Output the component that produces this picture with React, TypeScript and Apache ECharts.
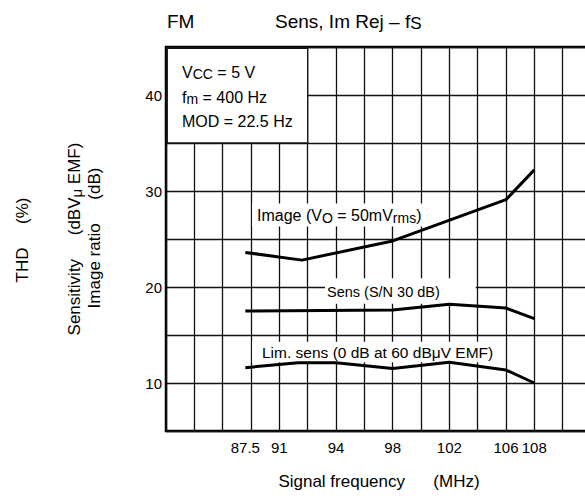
import React, { useEffect, useRef } from "react";
import * as echarts from "echarts";

// ---- data ----
const freqTicks = [87.5, 91, 94, 98, 102, 106, 108];
// non-linear frequency scale used by the original (grid columns)
const scaleFreq = [87.5, 91, 94, 98, 102, 106, 108];
const scaleCol = [2.8, 4, 6, 8, 10, 12, 13];

const imageFreq = [87.5, 92.2, 98, 106, 108];
const imageVal = [23.6, 22.8, 24.8, 29.1, 32.2];

const sensFreq = [87.5, 98, 102, 106, 108];
const sensVal = [17.5, 17.6, 18.2, 17.8, 16.7];

const limFreq = [87.5, 92, 94, 98, 102, 106, 108];
const limVal = [11.6, 12.1, 12.1, 11.5, 12.15, 11.35, 10.0];

const yTicks = [10, 20, 30, 40];

const FONT = '"Liberation Sans", Arial, Helvetica, sans-serif';

function col(f: number): number {
  for (let i = 0; i < scaleFreq.length - 1; i++) {
    if (f <= scaleFreq[i + 1]) {
      const t = (f - scaleFreq[i]) / (scaleFreq[i + 1] - scaleFreq[i]);
      return scaleCol[i] + t * (scaleCol[i + 1] - scaleCol[i]);
    }
  }
  return scaleCol[scaleCol.length - 1];
}

function pts(fs: number[], vs: number[]) {
  return fs.map((f, i) => [col(f), vs[i]]);
}

function rich(n: number, s: number) {
  return {
    n: { fontSize: n, fontFamily: FONT, lineHeight: n + 2, verticalAlign: "middle", fill: "#000" },
    s: { fontSize: s, fontFamily: FONT, lineHeight: s - 3, verticalAlign: "bottom", fill: "#000" },
  };
}

function txt(x: number, y: number, text: string, size: number, extra: any = {}) {
  const { style: st, ...rest } = extra;
  return {
    type: "text",
    x,
    y,
    z: 100,
    ...rest,
    style: {
      text,
      rich: rich(size, size - 2),
      font: `${size}px ${FONT}`,
      fill: "#000",
      align: "left",
      verticalAlign: "middle",
      textAlign: "left",
      textVerticalAlign: "middle",
      ...(st || {}),
    },
  };
}

export default function App() {
  const ref = useRef<HTMLDivElement>(null);
  useEffect(() => {
    if (!ref.current) return;
    const chart = echarts.init(ref.current, null, { renderer: "svg" });
    const lineStyle = { color: "#000", width: 3 };
    const colW = 28.33;
    chart.setOption({
      animation: false,
      backgroundColor: "#fff",
      grid: {
        left: 166,
        top: 47,
        width: colW * 16,
        height: 384,
        show: true,
        borderColor: "#000",
        borderWidth: 2.5,
        backgroundColor: "transparent",
      },
      xAxis: {
        type: "value",
        min: 0,
        max: 16,
        interval: 1,
        axisLine: { show: false },
        axisTick: { show: false },
        splitLine: { show: true, lineStyle: { color: "#111", width: 1.3 } },
        axisLabel: {
          customValues: freqTicks.map((f) => col(f)),
          formatter: (v: number) => {
            const i = freqTicks.findIndex((f) => Math.abs(col(f) - v) < 1e-6);
            return i >= 0 ? String(freqTicks[i]) : "";
          },
          fontSize: 15,
          fontFamily: FONT,
          color: "#000",
          margin: 9,
        },
      },
      yAxis: {
        type: "value",
        min: 5,
        max: 45,
        interval: 5,
        axisLine: { show: false },
        axisTick: { show: false },
        splitLine: { show: true, lineStyle: { color: "#111", width: 1.3 } },
        axisLabel: {
          formatter: (v: number) => (yTicks.includes(v) ? String(v) : ""),
          fontSize: 15,
          fontFamily: FONT,
          color: "#000",
          margin: 4,
        },
      },
      series: [
        { type: "line", data: pts(imageFreq, imageVal), symbol: "none", lineStyle, z: 3 },
        { type: "line", data: pts(sensFreq, sensVal), symbol: "none", lineStyle, z: 3 },
        { type: "line", data: pts(limFreq, limVal), symbol: "none", lineStyle, z: 3 },
      ],
      graphic: [
        txt(167, 21, "{n|FM}", 19),
        txt(275, 21, "{n|Sens, Im Rej – f}{s|S}", 19),
        {
          type: "rect",
          z: 90,
          shape: { x: 167.25, y: 48.25, width: 140.45, height: 94.75 },
          style: { fill: "#fff", stroke: "#111", lineWidth: 1.3 },
        },
        txt(182, 72, "{n|V}{s|CC}{n| = 5 V}", 16),
        txt(182, 97, "{n|f}{s|m}{n| = 400 Hz}", 16),
        txt(182, 121, "{n|MOD = 22.5 Hz}", 16),
        txt(252, 215, "{n|Image (V}{s|O}{n| = 50mV}{s|rms}{n|)}", 16, {
          z: 1,
          style: { backgroundColor: "#fff", padding: [3, 3, 2, 5] },
        }),
        txt(325, 291, "{n|Sens (S/N 30 dB)}", 14.5, {
          z: 1,
          style: { backgroundColor: "#fff", padding: [5, 36, 4, 2] },
        }),
        txt(252, 352, "{n|Lim. sens (0 dB at 60 dBμV EMF)}", 15.5, {
          z: 1,
          style: { backgroundColor: "#fff", padding: [2, 7, 1, 10] },
        }),
        txt(379, 481, "{n|Signal frequency      (MHz)}", 17, {
          style: { align: "center", textAlign: "center" },
        }),
        txt(22, 240, "{n|THD     (%)}", 17, {
          rotation: Math.PI / 2,
          style: { align: "center", textAlign: "center" },
        }),
        txt(74, 239, "{n|Sensitivity     (dBV}{s|μ}{n| EMF)}", 17, {
          rotation: Math.PI / 2,
          style: { align: "center", textAlign: "center" },
        }),
        txt(94, 238, "{n|Image ratio     (dB)}", 17, {
          rotation: Math.PI / 2,
          style: { align: "center", textAlign: "center" },
        }),
      ],
    });
    return () => chart.dispose();
  }, []);
  return (
    <div
      style={{
        position: "fixed",
        left: 0,
        top: 0,
        width: 585,
        height: 502,
        overflow: "hidden",
        background: "#fff",
      }}
    >
      <div ref={ref} style={{ width: 640, height: 502 }} />
    </div>
  );
}
